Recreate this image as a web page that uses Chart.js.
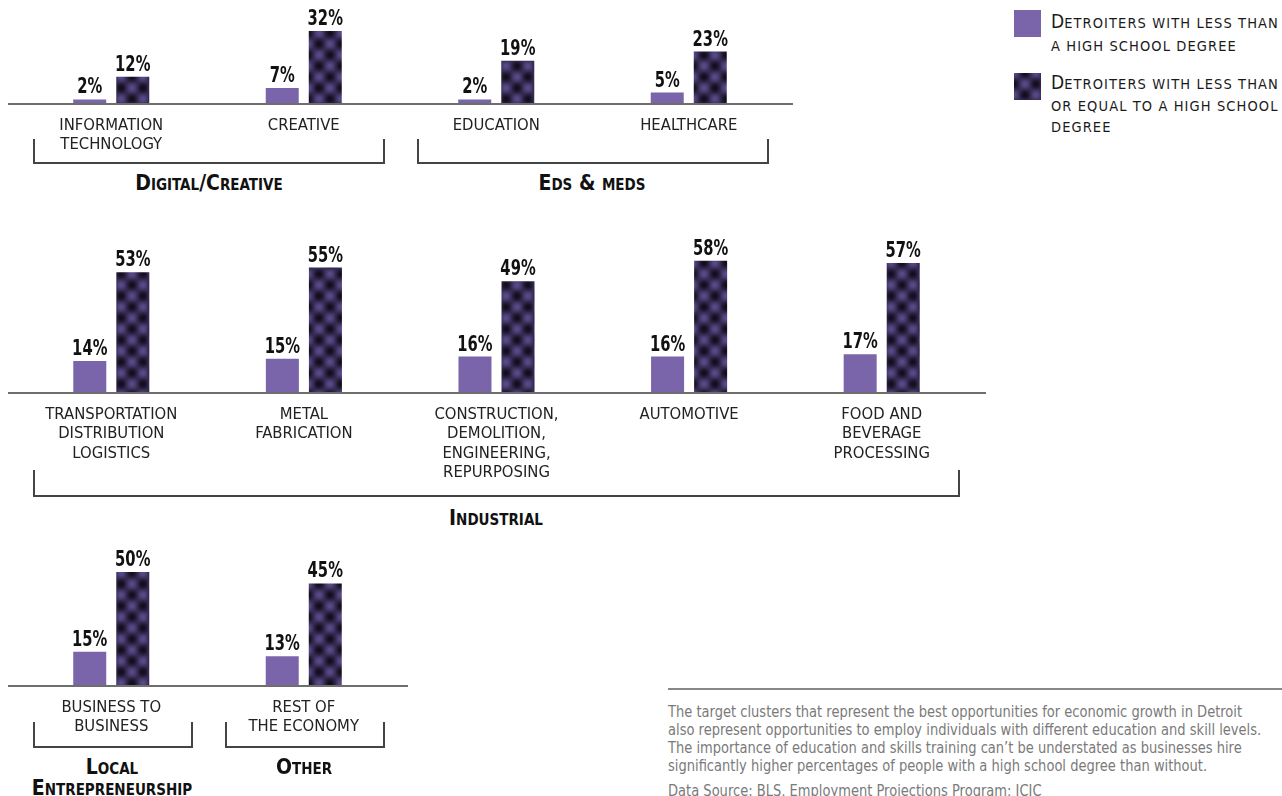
<!DOCTYPE html>
<html>
<head>
<meta charset="utf-8">
<script src="https://cdn.jsdelivr.net/npm/chart.js@4.4.1/dist/chart.umd.min.js"></script>
<style>
  body { margin: 0; width: 1282px; height: 796px; overflow: hidden; background: #fff; position: relative;
         font-family: 'Liberation Sans Narrow', 'Arial Narrow', 'DejaVu Sans Condensed', sans-serif; color: #111; }
  .row { position: absolute; left: 0; }
  .bracket { position: absolute; border: 2px solid #444; border-top: none; box-sizing: border-box; }
  .group { position: absolute; font-weight: bold; font-variant: small-caps; font-size: 21px; line-height: 21px;
           text-align: center; white-space: nowrap; transform: translateX(-50%); }
  .swatch { position: absolute; left: 1014px; width: 27px; height: 27px; }
  .legtext { position: absolute; left: 1051px; font-size: 14.5px; letter-spacing: 1.1px; white-space: nowrap; color: #1a1a1a; }
  .legtext b { font-weight: normal; font-size: 19px; letter-spacing: 0; }
  .note-line { position: absolute; left: 668px; top: 688px; width: 614px; border-top: 2px solid #888; }
  .note { position: absolute; left: 668px; top: 703px; font-size: 15px; line-height: 18px; color: #7a7a7a;
          white-space: nowrap; transform: scaleX(0.968); transform-origin: 0 0; }
</style>
</head>
<body>

<div class="row" id="rowTop" style="top:0;width:800px;"><canvas id="chartTop"></canvas></div>
<div class="row" id="rowInd" style="top:230px;width:993px;"><canvas id="chartInd"></canvas></div>
<div class="row" id="rowOther" style="top:540px;width:415px;"><canvas id="chartOther"></canvas></div>

<div class="bracket" style="left:33px;top:139px;width:352px;height:25px;"></div>
<div class="bracket" style="left:417px;top:139px;width:352px;height:25px;"></div>
<div class="group" style="left:209px;top:173px;">Digital/Creative</div>
<div class="group" style="left:592px;top:173px;">Eds &amp; meds</div>

<div class="bracket" style="left:33px;top:470px;width:927px;height:27px;"></div>
<div class="group" style="left:496px;top:508px;">Industrial</div>

<div class="bracket" style="left:33px;top:722px;width:160px;height:26px;"></div>
<div class="bracket" style="left:225px;top:722px;width:160px;height:26px;"></div>
<div class="group" style="left:112px;top:757px;">Local<br>Entrepreneurship</div>
<div class="group" style="left:304px;top:757px;">Other</div>

<div class="swatch" id="sw1" style="top:10px;"></div>
<div class="swatch" id="sw2" style="top:73px;"></div>
<div class="legtext" style="top:10px;line-height:23px;"><b>D</b>ETROITERS WITH LESS THAN<br>A HIGH SCHOOL DEGREE</div>
<div class="legtext" style="top:72px;line-height:21.5px;"><b>D</b>ETROITERS WITH LESS THAN<br>OR EQUAL TO A HIGH SCHOOL<br>DEGREE</div>

<div class="note-line"></div>
<div class="note">The target clusters that represent the best opportunities for economic growth in Detroit<br>also represent opportunities to employ individuals with different education and skill levels.<br>The importance of education and skills training can’t be understated as businesses hire<br>significantly higher percentages of people with a high school degree than without.<br><span style="display:inline-block;margin-top:7px;">Data Source: BLS, Employment Projections Program; ICIC</span></div>

<script>
// series names
var seriesNames = ['Detroiters with less than a high school degree',
                   'Detroiters with less than or equal to a high school degree'];

// digital/creative + eds & meds
var topCategories = [['INFORMATION', 'TECHNOLOGY'], 'CREATIVE', 'EDUCATION', 'HEALTHCARE'];
var topLessThanHS = [2, 7, 2, 5];
var topUpToHS = [12, 32, 19, 23];

// industrial
var industrialCategories = [['TRANSPORTATION', 'DISTRIBUTION', 'LOGISTICS'], ['METAL', 'FABRICATION'],
  ['CONSTRUCTION,', 'DEMOLITION,', 'ENGINEERING,', 'REPURPOSING'], 'AUTOMOTIVE', ['FOOD AND', 'BEVERAGE', 'PROCESSING']];
var industrialLessThanHS = [14, 15, 16, 16, 17];
var industrialUpToHS = [53, 55, 49, 58, 57];

// local entrepreneurship + other
var otherCategories = [['BUSINESS TO', 'BUSINESS'], ['REST OF', 'THE ECONOMY']];
var otherLessThanHS = [15, 13];
var otherUpToHS = [50, 45];

var PURPLE = '#7a65aa';
var PX_PER_PCT = 2.28;
var FONT = "'Liberation Sans Narrow', 'Arial Narrow', 'DejaVu Sans Condensed', sans-serif";

// blurred checkerboard tile for the darker bars
var TILE = 22;
var tile = document.createElement('canvas');
tile.width = TILE; tile.height = TILE;
(function () {
  var g = tile.getContext('2d');
  var img = g.createImageData(TILE, TILE);
  var dark = [18, 12, 28], light = [88, 74, 136];
  var half = TILE / 2;
  for (var y = 0; y < TILE; y++) {
    for (var x = 0; x < TILE; x++) {
      var t = 0.5 + 0.5 * Math.cos(Math.PI * (x + 0.5) / half) * Math.cos(Math.PI * (y + 0.5) / half);
      var i = (y * TILE + x) * 4;
      for (var k = 0; k < 3; k++) img.data[i + k] = Math.round(dark[k] + (light[k] - dark[k]) * t);
      img.data[i + 3] = 255;
    }
  }
  g.putImageData(img, 0, 0);
})();

document.getElementById('sw1').style.background = PURPLE;
document.getElementById('sw2').style.background = 'url(' + tile.toDataURL() + ')';

// baseline + value labels
var barLabels = {
  id: 'barLabels',
  afterDatasetsDraw: function (chart) {
    var ctx = chart.ctx, area = chart.chartArea;
    var y0 = chart.scales.y.getPixelForValue(0);
    ctx.save();
    ctx.strokeStyle = '#6e6e6e';
    ctx.lineWidth = 2;
    ctx.beginPath();
    ctx.moveTo(area.left - 7, y0);
    ctx.lineTo(area.right + 8, y0);
    ctx.stroke();
    ctx.font = 'bold 20.5px ' + FONT;
    ctx.fillStyle = '#111';
    ctx.textAlign = 'center';
    ctx.textBaseline = 'alphabetic';
    chart.data.datasets.forEach(function (ds, i) {
      chart.getDatasetMeta(i).data.forEach(function (bar, j) {
        ctx.save();
        ctx.translate(bar.x, bar.y - 6);
        ctx.scale(0.8, 1);
        ctx.fillText(ds.data[j] + '%', 0, 0);
        ctx.restore();
      });
    });
    ctx.restore();
  }
};

function makeRow(id, labels, lessThan, upTo, areaH, axisH) {
  var canvas = document.getElementById(id);
  canvas.parentNode.style.height = (areaH + axisH) + 'px';
  var pattern = canvas.getContext('2d').createPattern(tile, 'repeat');
  return new Chart(canvas, {
    type: 'bar',
    data: {
      labels: labels,
      datasets: [
        { label: seriesNames[0], data: lessThan, backgroundColor: PURPLE, categoryPercentage: 0.447, barPercentage: 0.767 },
        { label: seriesNames[1], data: upTo, backgroundColor: pattern, categoryPercentage: 0.447, barPercentage: 0.767 }
      ]
    },
    options: {
      responsive: true,
      maintainAspectRatio: false,
      animation: false,
      events: [],
      layout: { padding: { left: 15, right: 15, top: 0, bottom: 0 } },
      plugins: { legend: { display: false }, tooltip: { enabled: false } },
      scales: {
        x: {
          grid: { display: false, drawTicks: false },
          border: { display: false },
          ticks: { color: '#222', font: { family: FONT, size: 16.5, lineHeight: 1.18 }, padding: 12, maxRotation: 0, autoSkip: false },
          afterFit: function (scale) { scale.height = axisH; }
        },
        y: { display: false, min: 0, max: areaH / PX_PER_PCT }
      }
    },
    plugins: [barLabels]
  });
}

makeRow('chartTop', topCategories, topLessThanHS, topUpToHS, 104, 56);
makeRow('chartInd', industrialCategories, industrialLessThanHS, industrialUpToHS, 163, 90);
makeRow('chartOther', otherCategories, otherLessThanHS, otherUpToHS, 146, 60);
</script>
</body>
</html>
